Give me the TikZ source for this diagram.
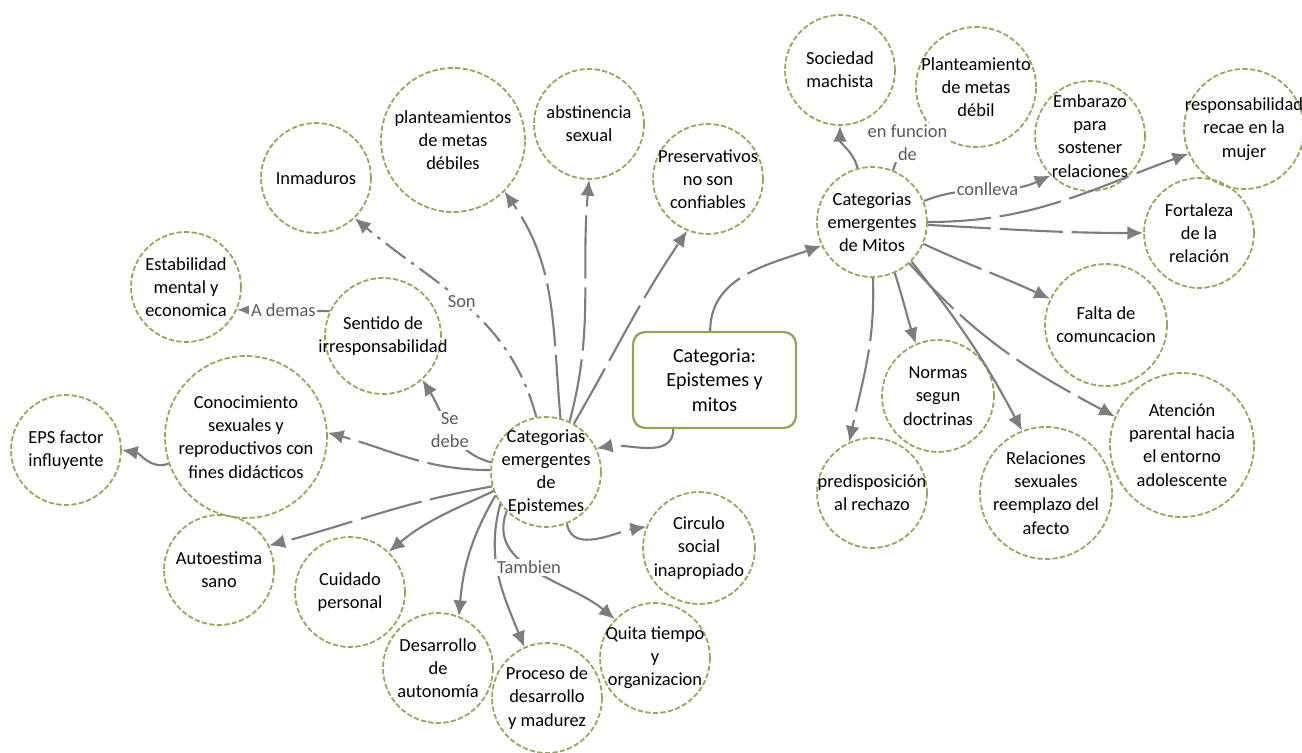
\documentclass[tikz,border=0pt]{standalone}
\usepackage{fontspec}
\setmainfont{Carlito}
\usetikzlibrary{arrows.meta}
\usetikzlibrary{positioning,shapes}
\definecolor{ideagreen}{RGB}{150,166,88}
\definecolor{boxgreen}{RGB}{145,165,85}
\definecolor{linkgray}{RGB}{125,125,125}
\definecolor{labelgray}{RGB}{90,90,90}

\begin{document}
\begin{tikzpicture}[%
        x=0.02cm, y=0.02cm,
        every node/.style={align=center, font=\fontsize{10.5}{13.2}\selectfont},
        idea/.style={circle, draw=ideagreen, line width=1pt, dash pattern=on 3pt off 1.3pt, minimum size=2.2cm, inner sep=-0.7cm},
        catbox/.style={rectangle, rounded corners=7pt, draw=boxgreen, line width=1.3pt, minimum width=3.26cm, minimum height=1.92cm, font=\fontsize{11.4}{14}\selectfont},
        lbl/.style={fill=white, text=labelgray, inner sep=1pt},
        link/.style={->, draw=linkgray, line width=1.2pt},
        gaplink/.style={link, dash pattern=on 36pt off 5pt},
        dotlink/.style={link, dash pattern=on 14pt off 4pt on 2pt off 4pt},
        >={Latex[length=9pt,width=8pt]}
      ]
      \useasboundingbox (0,0) rectangle (1302,752);
      % centre
      \node [catbox] (cat) at (714.5,372) {Categoria:\\Epistemes y\\mitos};
      % epistemes
      \node [idea] (epi) at (546,280) {Categorias\\emergentes\\de\\Epistemes};
      \node [idea] (inm) at (316,574) {Inmaduros};
      \node [idea] (est) at (186,465) {Estabilidad\\mental y\\economica};
      \node [idea, minimum size=2.32cm] (sen) at (383,416) {Sentido de\\irresponsabilidad};
      \node [idea, minimum size=2.88cm] (pla) at (453,612) {planteamientos\\de metas\\débiles};
      \node [idea] (abs) at (589,628) {abstinencia\\sexual};
      \node [idea] (pre) at (708,573) {Preservativos\\no son\\confiables};
      \node [idea, minimum size=3.24cm] (con) at (246,315) {Conocimiento\\sexuales y\\reproductivos con\\fines didácticos};
      \node [idea] (eps) at (66,302) {EPS factor\\influyente};
      \node [idea] (aut) at (219,182) {Autoestima\\sano};
      \node [idea] (cui) at (350,160) {Cuidado\\personal};
      \node [idea] (des) at (438,84) {Desarrollo\\de\\autonomía};
      \node [idea] (pro) at (547,54) {Proceso de\\desarrollo\\y madurez};
      \node [idea] (qui) at (655,94) {Quita tiempo\\y\\organizacion};
      \node [idea, minimum size=2.24cm] (cir) at (699,204) {Circulo\\social\\inapropiado};
      % mitos
      \node [idea] (mit) at (872,530) {Categorias\\emergentes\\de Mitos};
      \node [idea] (soc) at (840,682) {Sociedad\\machista};
      \node [idea, minimum size=2.4cm] (plm) at (976,665) {Planteamiento\\de metas\\débil};
      \node [idea] (emb) at (1090,616) {Embarazo\\para\\sostener\\relaciones};
      \node [idea, minimum size=2.4cm] (res) at (1244,623) {responsabilidad\\recae en la\\mujer};
      \node [idea] (fort) at (1199,519) {Fortaleza\\de la\\relación};
      \node [idea, minimum size=2.44cm] (fal) at (1106,427) {Falta de\\comuncacion};
      \node [idea, minimum size=2.24cm] (nor) at (938,356) {Normas\\segun\\doctrinas};
      \node [idea] (predi) at (872,259) {predisposición\\al rechazo};
      \node [idea, minimum size=2.64cm] (rel) at (1046,259) {Relaciones\\sexuales\\reemplazo del\\afecto};
      \node [idea, minimum size=2.88cm] (ate) at (1182,307) {Atención\\parental hacia\\el entorno\\adolescente};

      \path [draw] (cat.230) edge[gaplink, out=-90, in=10] (epi.25)
      (cat.95) edge[gaplink, out=90, in=200] (mit.205);

      \path [draw] (epi.100) edge[dotlink, out=105, in=-40] node[lbl, pos=0.52] {Son} (inm.-46)
      (epi.75) edge[gaplink, out=95, in=-55] (pla.-45)
      (epi.65) edge[gaplink, out=75, in=-95] (abs.-90)
      (epi.60) edge[gaplink, out=60, in=-124] (pre.-112)
      (epi.170) edge[link, out=165, in=-58] node[lbl, pos=0.5] {Se\\debe} (sen.-48)
      (epi.178) edge[gaplink, out=180, in=-15] (con.3)
      (con.199) edge[gaplink, out=200, in=-10] (eps.0)
      (sen.155) edge[link] node[lbl] {A demas} (est.-24)
      (epi.195) edge[gaplink, out=190, in=15] (aut.26)
      (epi.200) edge[link, out=205, in=40] (cui.46)
      (epi.205) edge[link, out=240, in=85] (des.68)
      (epi.215) edge[link, out=255, in=112] (pro.114)
      (epi.225) edge[link, out=250, in=140] node[lbl, pos=0.45] {Tambien} (qui.136)
      (epi.-68) edge[gaplink, out=-80, in=190] (cir.158);

      \path [draw] (mit.105) edge[link, out=105, in=-90] (soc.-90)
      (mit.68) edge[link, out=70, in=180] node[lbl] {en funcion\\de} (plm.225)
      (mit.22) edge[link, out=22, in=205] node[lbl] {conlleva} (emb.225)
      (mit.0) edge[gaplink, out=0, in=200] (res.204)
      (mit.-3) edge[gaplink, out=-3, in=180] (fort.180)
      (mit.-23) edge[gaplink, out=-25, in=155] (fal.155)
      (mit.-66) edge[gaplink, out=-72, in=108] (nor.113)
      (mit.-89) edge[gaplink, out=-88, in=78] (predi.114)
      (mit.-45) edge[link, out=-52, in=118] (rel.111)
      (mit.-48) edge[gaplink, out=-48, in=152] (ate.157);
    \end{tikzpicture}
\end{document}
